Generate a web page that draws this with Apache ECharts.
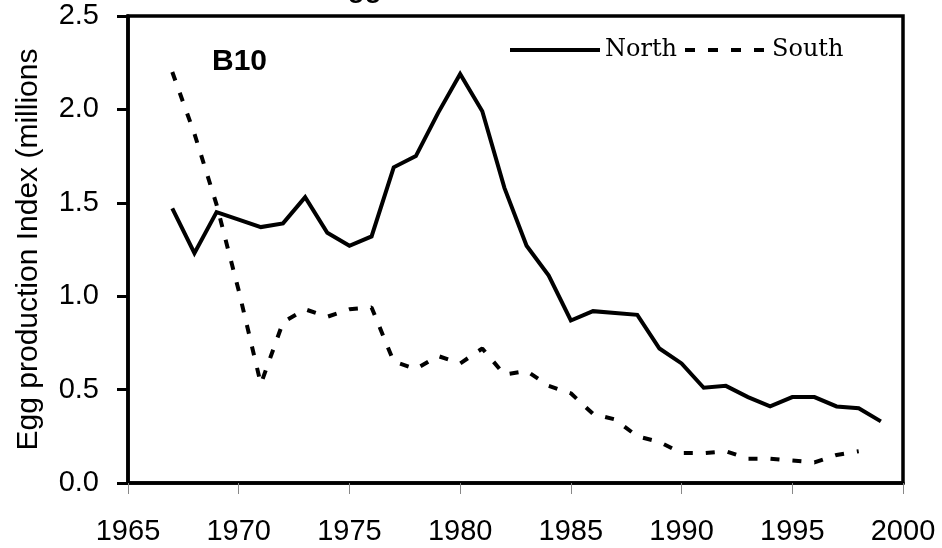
<!DOCTYPE html>
<html>
<head>
<meta charset="utf-8">
<title>B10 egg production index</title>
<script src="https://cdn.jsdelivr.net/npm/echarts@6/dist/echarts.min.js"></script>
<style>
  html, body { margin: 0; padding: 0; background: #ffffff; }
  #chart { width: 942px; height: 548px; }
</style>
</head>
<body>
<div id="chart"></div>
<script>
// ── Data ──────────────────────────────────────────────────────────────────
var years = [1967, 1968, 1969, 1970, 1971, 1972, 1973, 1974, 1975, 1976,
             1977, 1978, 1979, 1980, 1981, 1982, 1983, 1984, 1985, 1986,
             1987, 1988, 1989, 1990, 1991, 1992, 1993, 1994, 1995, 1996,
             1997, 1998, 1999];

var north = [1.47, 1.23, 1.45, 1.41, 1.37, 1.39, 1.53, 1.34, 1.27, 1.32,
             1.69, 1.75, 1.98, 2.19, 1.99, 1.58, 1.27, 1.11, 0.87, 0.92,
             0.91, 0.90, 0.72, 0.64, 0.51, 0.52, 0.46, 0.41, 0.46, 0.46,
             0.41, 0.40, 0.33];

// South has no 1999 value
var south = [2.20, 1.87, 1.49, 1.03, 0.53, 0.86, 0.93, 0.89, 0.93, 0.94,
             0.65, 0.61, 0.68, 0.64, 0.72, 0.58, 0.60, 0.52, 0.48, 0.37,
             0.34, 0.25, 0.22, 0.16, 0.16, 0.17, 0.13, 0.13, 0.12, 0.11,
             0.15, 0.17];

var xTicks = { min: 1965, max: 2000, step: 5 };
var yTicks = { min: 0, max: 2.5, step: 0.5 };

var panelLabel = 'B10';
var titleText = 'Egg';
var yName = 'Egg production Index (millions';

(function () {
  'use strict';

  var SANS = 'Arial, "Liberation Sans", sans-serif';
  var SERIF = '"DejaVu Serif", serif';

  function pairs(xs, ys) {
    return ys.map(function (v, i) { return [xs[i], v]; });
  }

  // legend entry: line only, no symbol in the middle
  function legendFor(name, width, left, dash) {
    return {
      data: [{
        name: name,
        lineStyle: { width: 4, type: dash, color: '#000' },
        itemStyle: { opacity: 0 }
      }],
      left: left, top: 38,
      padding: 0,
      itemWidth: width, itemHeight: 10,
      textStyle: { fontFamily: SERIF, fontSize: 24, color: '#000' }
    };
  }

  var chart = echarts.init(document.getElementById('chart'), null, { renderer: 'canvas' });

  var option = {
    backgroundColor: '#ffffff',
    animation: false,
    grid: {
      left: 128, right: 39, top: 16, bottom: 65,
      show: true,
      borderColor: '#000',
      borderWidth: 3.5,
      backgroundColor: 'transparent'
    },
    // title is clipped by the top edge in the original, only the descenders show
    graphic: [
      { type: 'text', left: 329, top: -25, style: { text: titleText, font: 'bold 28px ' + SANS, fill: '#000' } },
      { type: 'text', left: 212, top: 47, style: { text: panelLabel, font: 'bold 30px ' + SANS, fill: '#000' } }
    ],
    legend: [
      legendFor('North', 90, 508, 'solid'),
      legendFor('South', 82, 683, [10, 13])
    ],
    xAxis: {
      type: 'value',
      min: xTicks.min, max: xTicks.max, interval: xTicks.step,
      axisLine: { show: true, lineStyle: { color: '#000', width: 3.5 } },
      axisTick: { show: true, inside: false, length: 11, lineStyle: { color: '#888', width: 1 } },
      axisLabel: {
        margin: 34,
        color: '#000', fontFamily: SANS, fontSize: 29,
        formatter: function (v) { return String(v); }
      },
      splitLine: { show: false }
    },
    yAxis: {
      type: 'value',
      min: yTicks.min, max: yTicks.max, interval: yTicks.step,
      name: yName,
      nameLocation: 'middle',
      nameGap: 84,
      nameTextStyle: { color: '#000', fontFamily: SANS, fontSize: 30 },
      axisLine: { show: true, lineStyle: { color: '#000', width: 3.5 } },
      axisTick: { show: true, inside: false, length: 11, lineStyle: { color: '#000', width: 3 } },
      axisLabel: {
        margin: 29,
        color: '#000', fontFamily: SANS, fontSize: 29,
        formatter: function (v) { return v.toFixed(1); }
      },
      splitLine: { show: false }
    },
    series: [
      {
        name: 'North',
        type: 'line',
        data: pairs(years, north),
        symbol: 'none',
        lineStyle: { color: '#000', width: 4, type: 'solid', join: 'miter' },
        itemStyle: { color: '#000' }
      },
      {
        name: 'South',
        type: 'line',
        data: pairs(years, south),
        symbol: 'none',
        lineStyle: { color: '#000', width: 4, type: [9, 13] },
        itemStyle: { color: '#000' }
      }
    ]
  };

  chart.setOption(option);
})();
</script>
</body>
</html>
